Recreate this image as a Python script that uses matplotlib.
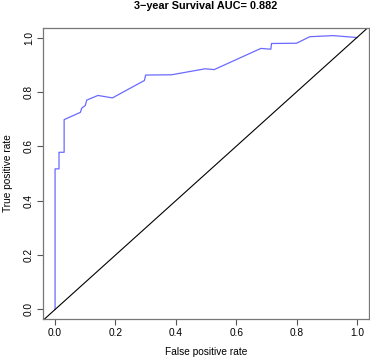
import matplotlib
matplotlib.use("Agg")
import matplotlib.pyplot as plt

plt.rcParams['font.family'] = ['Liberation Sans', 'DejaVu Sans']

# ROC curve points
fpr = [0.0, 0.0, 0.013, 0.013, 0.030, 0.030, 0.084, 0.088, 0.100, 0.105,
       0.142, 0.190, 0.296, 0.300, 0.386, 0.497, 0.527, 0.682, 0.715,
       0.717, 0.800, 0.844, 0.921, 1.0]
tpr = [0.0, 0.517, 0.517, 0.578, 0.578, 0.698, 0.725, 0.740, 0.750, 0.770,
       0.787, 0.778, 0.842, 0.862, 0.863, 0.885, 0.882, 0.960, 0.957,
       0.978, 0.979, 1.003, 1.007, 1.0]

title = "3\u2212year Survival AUC= 0.882"
ticks = [0.0, 0.2, 0.4, 0.6, 0.8, 1.0]

W, H = 370, 363
fig = plt.figure(figsize=(W / 100, H / 100), dpi=100)
ax = fig.add_axes([43 / W, 44 / H, 326 / W, 291 / H])

ax.plot(fpr, tpr, color='#6a6aff', lw=0.9)
ax.plot([-0.1, 1.1], [-0.1, 1.1], color='black', lw=0.8)

ax.set_xlim(-0.04, 1.04)
ax.set_ylim(-0.035, 1.035)
ax.set_xticks(ticks)
ax.set_yticks(ticks)
ax.set_xticklabels([f"{t:.1f}" for t in ticks])
ax.set_yticklabels([f"{t:.1f}" for t in ticks], rotation=90, va='center')
ax.tick_params(labelsize=7.3, length=4, width=0.8, color='#555555', pad=2.5)

for s in ax.spines.values():
    s.set_color('#777777')
    s.set_linewidth(0.9)

# axis titles placed like the R base-graphics output
fig.text(206 / W, 1 - 352 / H, "False positive rate", fontsize=7.3,
         ha='center', va='center')
fig.text(8 / W, 1 - 173 / H, "True positive rate", fontsize=7.3,
         ha='center', va='center', rotation=90)
fig.text(206 / W, 1 - 6 / H, title, fontsize=7.8, fontweight='bold',
         ha='center', va='center')

fig.savefig("out.png", dpi=100)
